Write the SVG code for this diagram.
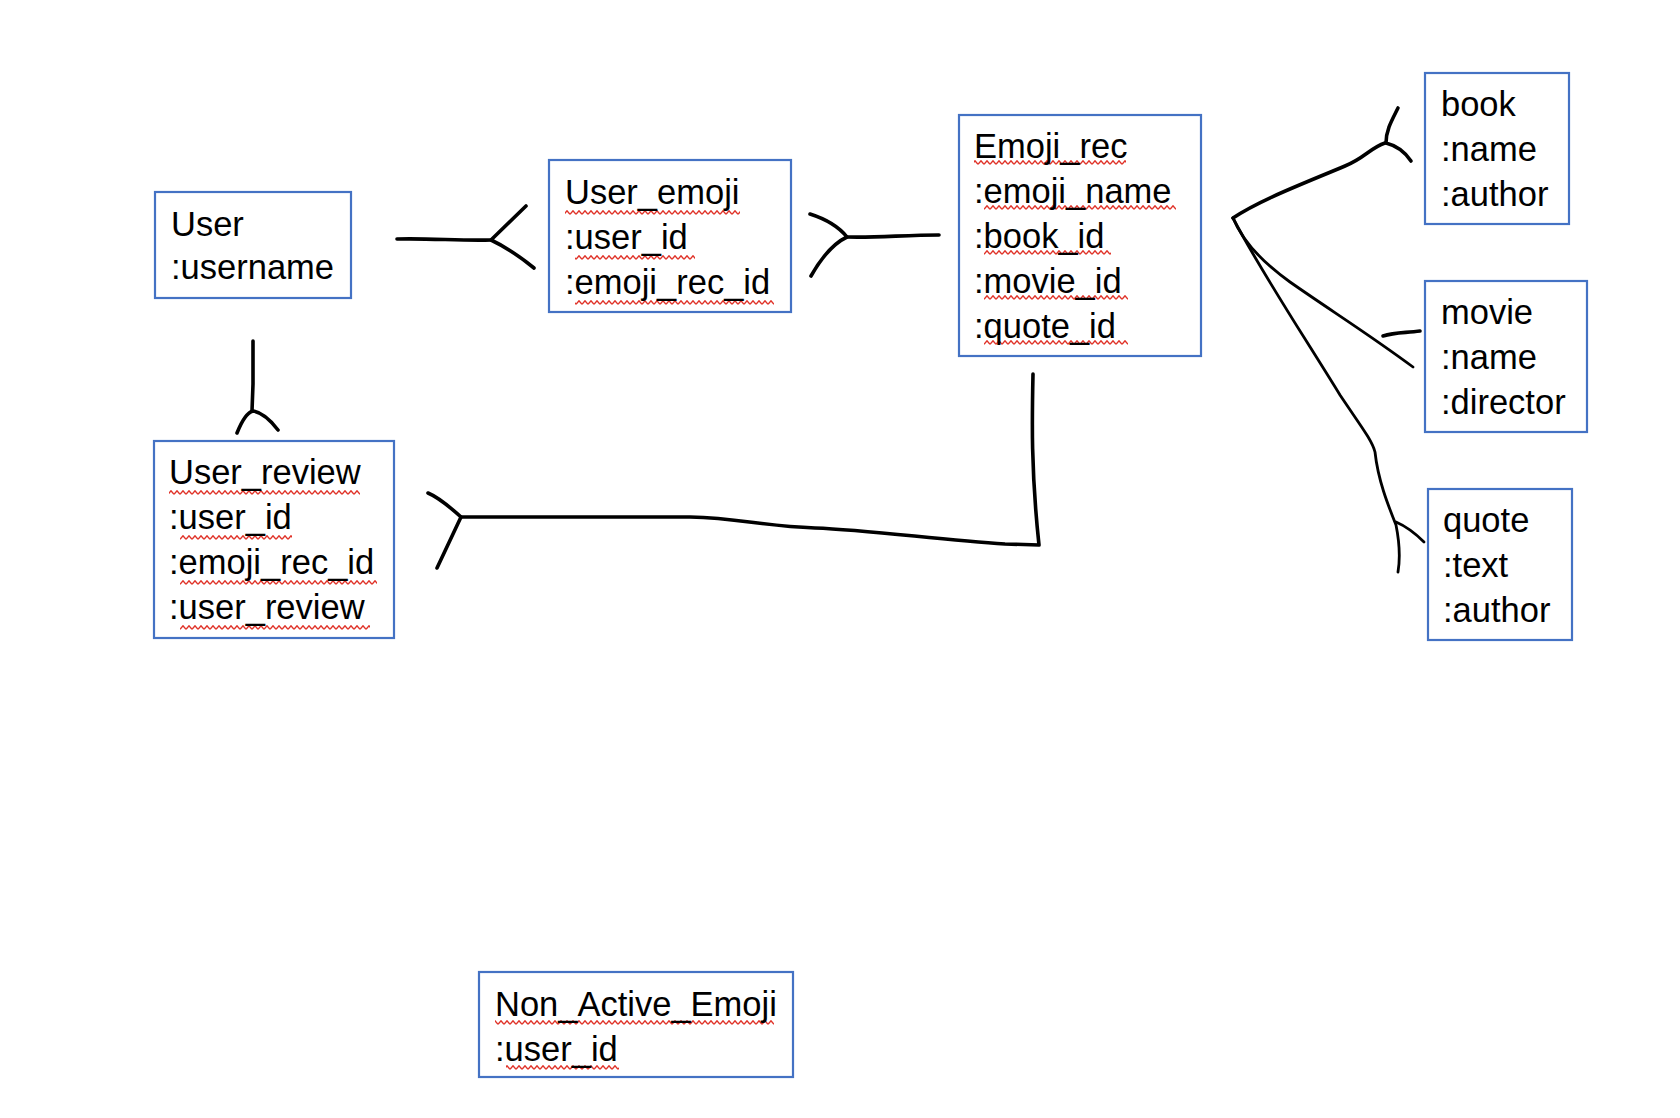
<svg xmlns="http://www.w3.org/2000/svg" width="1680" height="1118" viewBox="0 0 1680 1118">
<style>
.box{fill:#fff;stroke:#4472C4;stroke-width:2.2}
.t{font-family:"Liberation Sans",Arial,sans-serif;font-size:34.5px;fill:#000}
.c{fill:none;stroke:#000;stroke-width:3.6;stroke-linecap:round;stroke-linejoin:round}
.thin{stroke-width:2.8}
.sq{fill:url(#zig)}
</style>
<defs>
<pattern id="zig" patternUnits="userSpaceOnUse" x="0" y="0" width="6" height="5">
<polyline points="0,4.3 3,0.8 6,4.3" fill="none" stroke="#e03228" stroke-width="1.4"/>
</pattern>
</defs>
<rect width="1680" height="1118" fill="#fff"/>
<g id="connectors">
<path class="c" d="M397,239 C430,238 460,241 491,240"/>
<path class="c" d="M526,206 L491,240 Q512,250 534,268"/>
<path class="c" d="M847,237 C875,238 905,235 939,235"/>
<path class="c" d="M810,214 Q835,222 847,237 Q828,246 811,276"/>
<path class="c" d="M253,341 L253,384 L252,411"/>
<path class="c" d="M237,433 Q245,413 253,411 Q265,413 278,430"/>
<path class="c" d="M1033,374 C1032,420 1031,470 1039,545 L1005,544 C940,540 870,530 815,528 C760,526 740,518 690,517 L461,517"/>
<path class="c" d="M428,493 Q440,498 461,517 L437,568"/>
<path class="c" d="M1233,218 C1260,200 1300,185 1345,166 C1365,158 1370,148 1385,143"/>
<path class="c" d="M1398,108 C1392,120 1386,130 1386,143 C1398,146 1405,152 1411,161"/>
<path class="c thin" d="M1233,218 C1243,242 1262,262 1290,282 C1330,310 1370,335 1413,367"/>
<path class="c" d="M1383,336 C1395,332 1405,333 1420,331"/>
<path class="c thin" d="M1233,218 C1260,270 1300,330 1340,395 C1360,425 1372,440 1375,452 C1378,480 1388,505 1396,525 C1400,545 1400,560 1398,572"/>
<path class="c thin" d="M1396,522 Q1410,528 1424,542"/>
</g>
<g id="user">
<rect class="box" x="155" y="192" width="196" height="106"/>
<text class="t" x="171" y="236">User</text>
<text class="t" x="171" y="279">:username</text>
</g>
<g id="user_emoji">
<rect class="box" x="549" y="160" width="242" height="152"/>
<rect class="sq" x="565" y="210" width="175" height="5"/>
<rect class="sq" x="575" y="255" width="120" height="5"/>
<rect class="sq" x="575" y="300" width="199" height="5"/>
<text class="t" x="565" y="204">User_emoji</text>
<text class="t" x="565" y="249">:user_id</text>
<text class="t" x="565" y="294">:emoji_rec_id</text>
</g>
<g id="emoji_rec">
<rect class="box" x="959" y="115" width="242" height="241"/>
<rect class="sq" x="974" y="160" width="152" height="5"/>
<rect class="sq" x="984" y="205" width="192" height="5"/>
<rect class="sq" x="984" y="250" width="127" height="5"/>
<rect class="sq" x="984" y="295" width="144" height="5"/>
<rect class="sq" x="984" y="340" width="144" height="5"/>
<text class="t" x="974" y="158">Emoji_rec</text>
<text class="t" x="974" y="203">:emoji_name</text>
<text class="t" x="974" y="248">:book_id</text>
<text class="t" x="974" y="293">:movie_id</text>
<text class="t" x="974" y="338">:quote_id</text>
</g>
<g id="book">
<rect class="box" x="1425" y="73" width="144" height="151"/>
<text class="t" x="1441" y="116">book</text>
<text class="t" x="1441" y="161">:name</text>
<text class="t" x="1441" y="206">:author</text>
</g>
<g id="movie">
<rect class="box" x="1425" y="281" width="162" height="151"/>
<text class="t" x="1441" y="324">movie</text>
<text class="t" x="1441" y="369">:name</text>
<text class="t" x="1441" y="414">:director</text>
</g>
<g id="quote">
<rect class="box" x="1428" y="489" width="144" height="151"/>
<text class="t" x="1443" y="532">quote</text>
<text class="t" x="1443" y="577">:text</text>
<text class="t" x="1443" y="622">:author</text>
</g>
<g id="user_review">
<rect class="box" x="154" y="441" width="240" height="197"/>
<rect class="sq" x="169" y="490" width="191" height="5"/>
<rect class="sq" x="180" y="535" width="112" height="5"/>
<rect class="sq" x="180" y="580" width="197" height="5"/>
<rect class="sq" x="180" y="625" width="190" height="5"/>
<text class="t" x="169" y="484">User_review</text>
<text class="t" x="169" y="529">:user_id</text>
<text class="t" x="169" y="574">:emoji_rec_id</text>
<text class="t" x="169" y="619">:user_review</text>
</g>
<g id="non_active_emoji">
<rect class="box" x="479" y="972" width="314" height="105"/>
<rect class="sq" x="495" y="1020" width="279" height="5"/>
<rect class="sq" x="506" y="1065" width="113" height="5"/>
<text class="t" x="495" y="1016">Non_Active_Emoji</text>
<text class="t" x="495" y="1061">:user_id</text>
</g>
</svg>
